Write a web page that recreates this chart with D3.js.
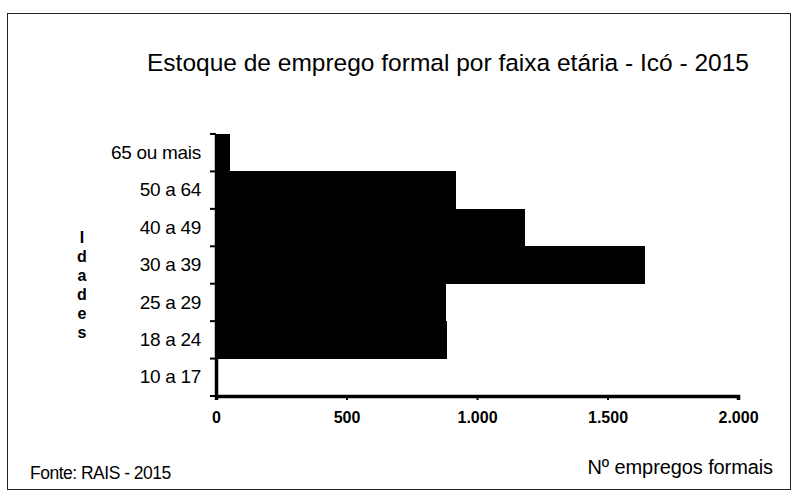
<!DOCTYPE html>
<html>
<head>
<meta charset="utf-8">
<script src="https://cdn.jsdelivr.net/npm/d3@7"></script>
<style>
  body { margin: 0; background: #fff; }
  text { font-family: "Liberation Sans", Arial, sans-serif; fill: #000; }
</style>
</head>
<body>
<div id="chart"></div>
<script>
// faixas etárias, de cima para baixo
var faixas = ['65 ou mais', '50 a 64', '40 a 49', '30 a 39', '25 a 29', '18 a 24', '10 a 17']
var empregos = [55, 918, 1183, 1643, 880, 884, 8]
var xTicks = [0, 500, 1000, 1500, 2000]

var data = faixas.map((f, i) => ({ faixa: f, valor: empregos[i] }))

var svg = d3.select('#chart')
    .append('svg')
    .attr('width', 799)
    .attr('height', 502)

// moldura
svg.append('rect')
    .attr('x', 7.5)
    .attr('y', 13.5)
    .attr('width', 783)
    .attr('height', 476)
    .attr('fill', 'none')
    .attr('stroke', '#222')
    .attr('stroke-width', 1)

svg.append('text')
    .attr('x', 448)
    .attr('y', 71)
    .attr('text-anchor', 'middle')
    .style('font-size', '24.5px')
    .text('Estoque de emprego formal por faixa etária - Icó - 2015')

var x = d3.scaleLinear()
    .domain([0, 2000])
    .range([216, 738])

var y = d3.scaleBand()
    .domain(faixas)
    .range([134, 396])
    .padding(0)

var br = d3.formatLocale({ decimal: ',', thousands: '.', grouping: [3], currency: ['', ''] })

svg.selectAll('.bar')
    .data(data)
    .enter()
    .append('rect')
    .attr('class', 'bar')
    .attr('x', x(0))
    .attr('y', d => y(d.faixa))
    .attr('width', d => x(d.valor) - x(0))
    .attr('height', y.bandwidth() + 0.5)
    .attr('fill', '#000')
    .attr('shape-rendering', 'crispEdges')

var xAxis = svg.append('g')
    .attr('transform', 'translate(0,396)')
    .call(d3.axisBottom(x).tickValues(xTicks).tickFormat(br.format(',')).tickSize(4).tickPadding(9))
xAxis.select('.domain').attr('stroke-width', 3.5)
xAxis.selectAll('.tick line').attr('stroke-width', 2)
xAxis.selectAll('text').style('font-size', '16px').style('font-weight', 'bold')
    .attr('dy', '0.85em')

var yAxis = svg.append('g')
    .attr('transform', 'translate(216,0)')
    .call(d3.axisLeft(y).tickSize(0).tickPadding(15))
yAxis.select('.domain').attr('stroke-width', 3.5)
yAxis.selectAll('text').style('font-size', '19px').style('letter-spacing', '-0.3px')

// marcas entre as faixas
svg.append('g')
    .selectAll('line')
    .data(faixas.map(f => y(f)).concat([396]))
    .enter()
    .append('line')
    .attr('x1', 210)
    .attr('x2', 216)
    .attr('y1', d => d)
    .attr('y2', d => d)
    .attr('stroke', '#000')
    .attr('stroke-width', 2)

// título do eixo y, letra por letra
svg.append('g')
    .selectAll('text')
    .data('Idades'.split(''))
    .enter()
    .append('text')
    .attr('x', 82)
    .attr('y', (d, i) => 243 + i * 19)
    .attr('text-anchor', 'middle')
    .style('font-size', '16px')
    .style('font-weight', 'bold')
    .text(d => d)

svg.append('text')
    .attr('x', 773)
    .attr('y', 474)
    .attr('text-anchor', 'end')
    .style('font-size', '20px')
    .style('letter-spacing', '-0.1px')
    .text('Nº empregos formais')

svg.append('text')
    .attr('x', 30)
    .attr('y', 479)
    .style('font-size', '17.5px')
    .style('letter-spacing', '-0.5px')
    .text('Fonte: RAIS - 2015')
</script>
</body>
</html>
